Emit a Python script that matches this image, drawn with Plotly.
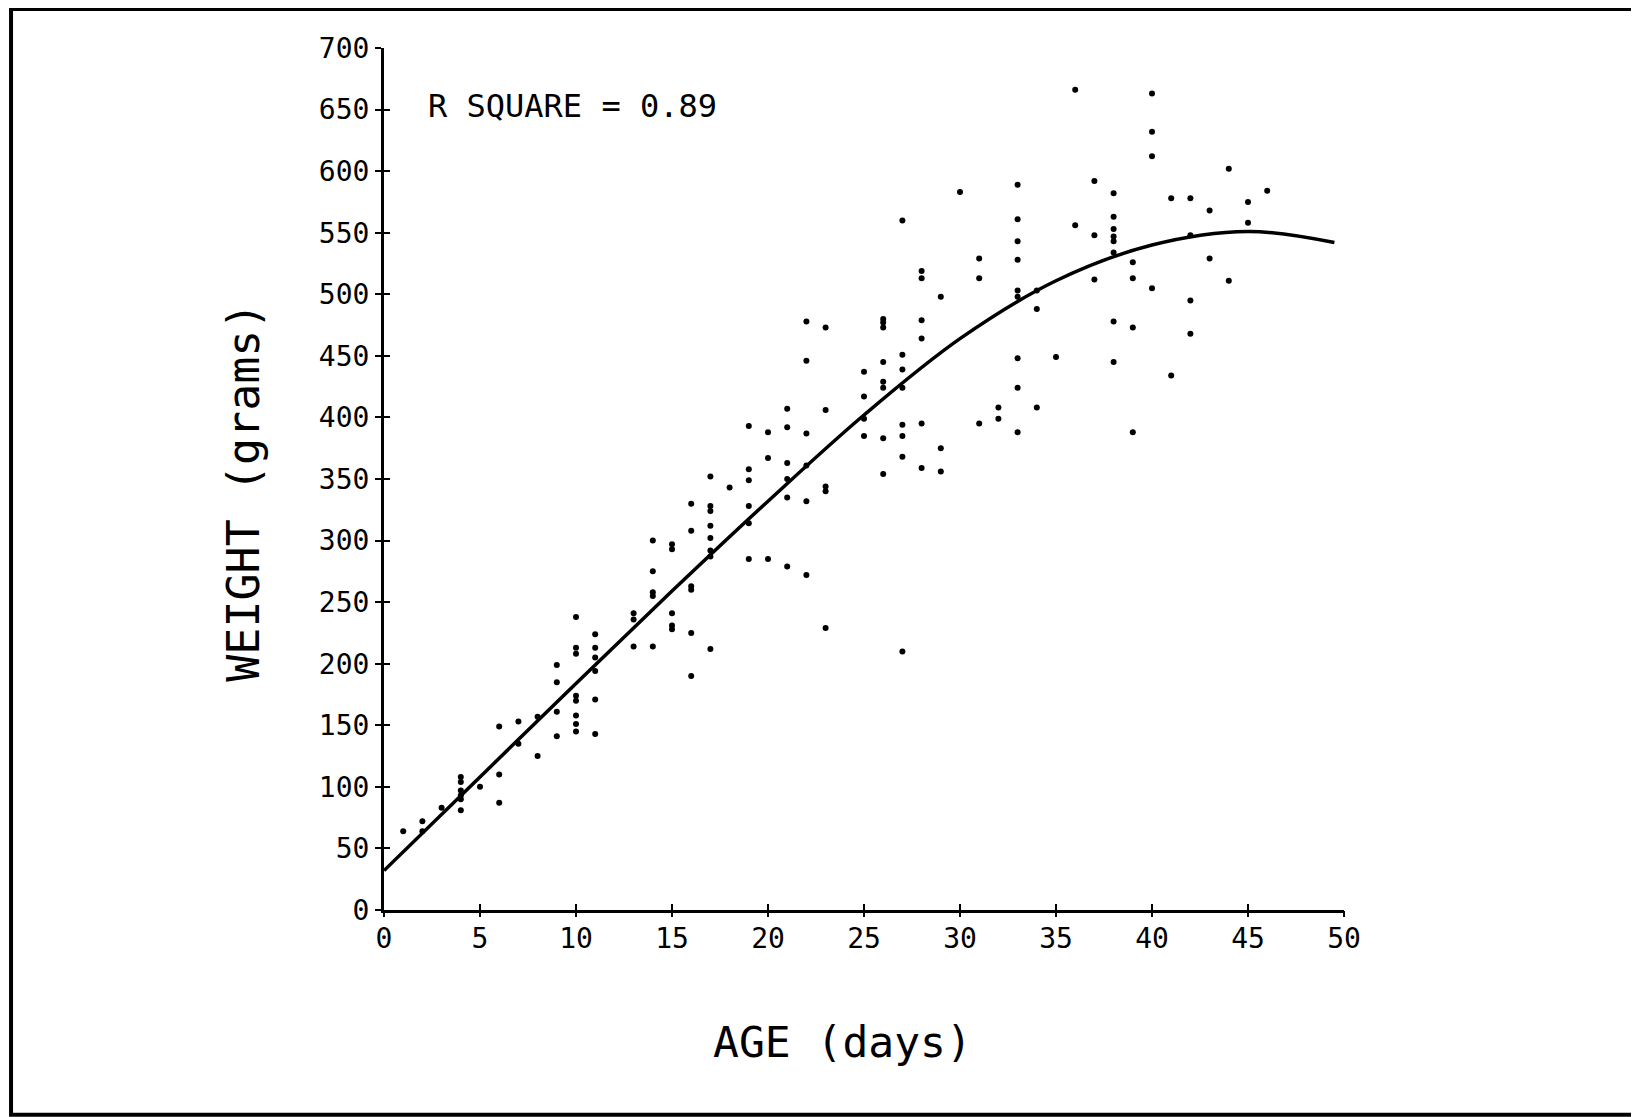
import plotly.graph_objects as go

# ---- data ----
groups = {
    1: [64],
    2: [72, 64],
    3: [83],
    4: [108, 104, 97, 93, 90, 81],
    5: [100],
    6: [149, 110, 87],
    7: [153, 135],
    8: [157, 125],
    9: [199, 185, 161, 141],
    10: [238, 213, 208, 174, 170, 158, 151, 145],
    11: [224, 213, 205, 194, 171, 143],
    13: [241, 236, 214],
    14: [300, 275, 258, 255, 214],
    15: [297, 293, 241, 231, 228],
    16: [330, 308, 263, 260, 225, 190],
    17: [352, 328, 324, 312, 302, 292, 287, 212],
    18: [343],
    19: [393, 358, 349, 328, 314, 285],
    20: [388, 367, 285],
    21: [407, 392, 363, 350, 335, 279],
    22: [478, 446, 387, 361, 332, 272],
    23: [473, 406, 344, 340, 229],
    25: [437, 417, 399, 385],
    26: [480, 477, 473, 445, 429, 424, 383, 354],
    27: [560, 451, 439, 424, 394, 385, 368, 210],
    28: [519, 513, 479, 464, 395, 359],
    29: [498, 375, 356],
    30: [583],
    31: [529, 513, 395],
    32: [408, 399],
    33: [589, 561, 543, 528, 503, 498, 448, 424, 388],
    34: [503, 488, 408],
    35: [449],
    36: [666, 556],
    37: [592, 548, 512],
    38: [582, 563, 553, 547, 543, 534, 478, 445],
    39: [526, 513, 473, 388],
    40: [663, 632, 612, 505],
    41: [578, 434],
    42: [578, 548, 495, 468],
    43: [568, 529],
    44: [602, 511],
    45: [575, 558],
    46: [584],
}
age = []
weight = []
for d, ws in groups.items():
    for w in ws:
        age.append(d)
        weight.append(w)

# fitted regression curve
fit_age = [0, 5, 10, 15, 20, 25, 30, 35, 40, 45, 49.5]
fit_weight = [32, 108, 184, 259, 332, 402, 464, 511, 540, 551, 542]

x_ticks = [0, 5, 10, 15, 20, 25, 30, 35, 40, 45, 50]
y_ticks = [0, 50, 100, 150, 200, 250, 300, 350, 400, 450, 500, 550, 600, 650, 700]

FONT = "DejaVu Sans Mono"

fig = go.Figure()
fig.add_trace(go.Scatter(x=age, y=weight, mode="markers",
                         marker=dict(size=6, color="black"),
                         showlegend=False, hoverinfo="skip"))
fig.add_trace(go.Scatter(x=fit_age, y=fit_weight, mode="lines",
                         line=dict(color="black", width=3.5, shape="spline", smoothing=1.0),
                         showlegend=False, hoverinfo="skip"))
# invisible trace to activate overlay axes (other half of the cross ticks)
fig.add_trace(go.Scatter(x=[0], y=[0], xaxis="x2", yaxis="y2", mode="markers",
                         marker=dict(size=1, color="rgba(0,0,0,0)"),
                         showlegend=False, hoverinfo="skip"))

tick_font = dict(family=FONT, size=28, color="black")

fig.update_layout(
    width=1631, height=1109,
    margin=dict(l=376, r=295, t=40, b=207),
    paper_bgcolor="white", plot_bgcolor="white",
    xaxis=dict(range=[0, 50], tickvals=x_ticks, ticktext=[str(v) for v in x_ticks],
               showgrid=False, zeroline=False, showline=True, linecolor="black",
               linewidth=3, ticks="inside", ticklen=6, tickwidth=2, tickcolor="black",
               ticklabelstandoff=1, tickfont=tick_font),
    yaxis=dict(range=[0, 700], tickvals=y_ticks, ticktext=[str(v) for v in y_ticks],
               showgrid=False, zeroline=False, showline=True, linecolor="black",
               linewidth=3, ticks="outside", ticklen=6, tickwidth=2, tickcolor="black",
               ticklabelstandoff=0, tickfont=tick_font),
    xaxis2=dict(range=[0, 50], overlaying="x", side="bottom", tickvals=x_ticks,
                showticklabels=False, showgrid=False, zeroline=False, showline=False,
                ticks="outside", ticklen=6, tickwidth=2, tickcolor="black"),
    yaxis2=dict(range=[0, 700], overlaying="y", side="left", tickvals=y_ticks,
                showticklabels=False, showgrid=False, zeroline=False, showline=False,
                ticks="inside", ticklen=6, tickwidth=2, tickcolor="black"),
    annotations=[
        dict(text="R SQUARE = 0.89", x=2.2, y=653, xref="x", yref="y",
             xanchor="left", yanchor="middle", showarrow=False,
             font=dict(family=FONT, size=32, color="black")),
        dict(text="AGE (days)", x=0.478, y=-0.153, xref="paper", yref="paper",
             xanchor="center", yanchor="middle", showarrow=False,
             font=dict(family=FONT, size=43, color="black")),
        dict(text="WEIGHT (grams)", x=-0.146, y=0.485, xref="paper", yref="paper",
             xanchor="center", yanchor="middle", showarrow=False, textangle=-90,
             font=dict(family=FONT, size=45, color="black")),
    ],
    shapes=[
        dict(type="rect", xref="paper", yref="paper",
             x0=-0.3885, x1=1.3065, y0=-0.2375, y1=1.0453,
             line=dict(color="black", width=4), layer="above"),
    ],
)

fig.write_html("out.html")
